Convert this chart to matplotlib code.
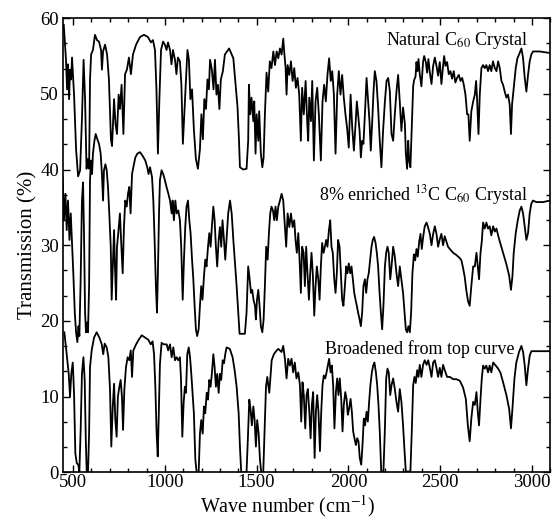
import matplotlib.pyplot as plt
from matplotlib.ticker import MultipleLocator

plt.rcParams['font.family'] = ['Liberation Serif', 'DejaVu Serif']
plt.rcParams['mathtext.fontset'] = 'stix'

# Natural C60 crystal (top curve)
natural_wn = [449, 461, 467, 472, 478, 483, 489, 494, 505, 516, 527, 538, 548, 557, 565, 573, 581, 587, 592, 598,
              608, 619, 630, 641, 652, 657, 663, 674, 685, 695, 706, 712, 723, 731, 739, 748, 755, 764, 774, 783,
              793, 804, 815, 826, 843, 864, 886, 908, 924, 935, 946, 954, 962, 970, 979, 990, 1000, 1009, 1017, 1028,
              1036, 1044, 1055, 1063, 1071, 1082, 1090, 1098, 1107, 1115, 1123, 1131, 1139, 1148, 1158, 1169, 1180, 1191, 1199, 1207,
              1215, 1224, 1232, 1240, 1246, 1256, 1265, 1273, 1281, 1289, 1297, 1305, 1316, 1327, 1350, 1373, 1382, 1391, 1396, 1404,
              1409, 1427, 1445, 1454, 1458, 1465, 1472, 1482, 1487, 1494, 1500, 1509, 1514, 1523, 1531, 1538, 1545, 1554, 1563, 1572,
              1581, 1591, 1600, 1609, 1618, 1627, 1636, 1645, 1650, 1658, 1663, 1669, 1678, 1687, 1696, 1705, 1714, 1723, 1732, 1741,
              1748, 1757, 1767, 1776, 1781, 1787, 1796, 1803, 1812, 1821, 1830, 1839, 1850, 1859, 1868, 1877, 1886, 1895, 1904, 1912,
              1921, 1930, 1939, 1948, 1957, 1966, 1975, 1984, 1993, 2002, 2012, 2021, 2030, 2039, 2046, 2053, 2061, 2068, 2075, 2082,
              2090, 2099, 2108, 2115, 2122, 2130, 2137, 2144, 2153, 2162, 2171, 2180, 2189, 2199, 2208, 2217, 2226, 2235, 2244, 2253,
              2262, 2271, 2280, 2289, 2298, 2308, 2313, 2320, 2326, 2331, 2338, 2344, 2353, 2358, 2366, 2371, 2376, 2382, 2389, 2398,
              2407, 2413, 2422, 2429, 2436, 2444, 2453, 2462, 2471, 2480, 2489, 2498, 2507, 2516, 2522, 2529, 2538, 2547, 2556, 2565,
              2574, 2583, 2592, 2602, 2611, 2620, 2629, 2638, 2647, 2654, 2661, 2670, 2680, 2689, 2696, 2701, 2709, 2716, 2725, 2734,
              2743, 2752, 2761, 2770, 2779, 2788, 2798, 2807, 2816, 2825, 2834, 2843, 2852, 2861, 2870, 2879, 2886, 2892, 2901, 2912,
              2921, 2930, 2943, 2952, 2961, 2970, 2979, 2988, 2997, 3006, 3043, 3097]
natural_t = [59.1, 54.5, 50.6, 53.9, 49.3, 53.2, 51.9, 54.8, 49.9, 42.7, 39.1, 39.9, 46.7, 54.5, 49.3, 40.1, 41.4, 40.1, 51.9, 55.2,
             55.8, 57.8, 57.1, 56.9, 55.8, 53.2, 55.6, 56.5, 55.2, 51.9, 44.0, 43.1, 49.3, 46.0, 44.7, 49.9, 48.0, 51.2, 44.7, 52.6,
             53.2, 54.8, 52.6, 55.2, 56.5, 57.5, 57.8, 57.5, 56.8, 57.1, 55.8, 50.6, 42.1, 49.3, 55.8, 56.9, 56.5, 55.8, 56.8, 55.8,
             53.9, 55.8, 54.5, 52.6, 54.8, 54.3, 51.2, 43.4, 48.0, 51.9, 55.8, 54.5, 49.3, 50.6, 45.3, 41.4, 40.1, 42.7, 47.3, 44.0,
             49.3, 48.0, 51.9, 50.6, 54.5, 53.2, 50.6, 54.5, 49.9, 51.2, 48.0, 51.9, 53.0, 55.2, 56.0, 54.7, 52.1, 49.5, 48.2, 43.8,
             40.3, 40.0, 40.1, 43.8, 51.2, 47.3, 49.5, 46.4, 49.0, 42.1, 47.3, 43.8, 47.7, 42.1, 40.3, 41.6, 47.3, 52.8, 50.3, 54.3,
             53.4, 55.6, 53.8, 55.6, 54.7, 56.0, 55.2, 57.3, 55.6, 53.4, 49.9, 53.8, 52.5, 54.3, 51.7, 53.4, 50.8, 52.1, 49.9, 43.8,
             50.8, 47.3, 51.7, 46.0, 43.8, 49.5, 46.4, 51.7, 41.2, 49.0, 50.8, 47.3, 41.2, 49.0, 51.2, 49.0, 52.5, 54.7, 51.7, 53.0,
             49.9, 42.1, 49.9, 53.0, 49.9, 52.5, 49.5, 47.3, 45.5, 42.9, 49.9, 45.5, 42.5, 46.0, 49.0, 47.3, 45.1, 41.6, 43.8, 43.4,
             47.3, 52.1, 49.0, 46.4, 42.5, 46.4, 50.3, 53.0, 51.7, 48.2, 43.8, 40.3, 45.1, 49.0, 51.7, 52.1, 50.3, 44.7, 43.8, 47.3,
             50.3, 52.5, 49.0, 45.1, 48.2, 46.0, 42.1, 40.1, 43.8, 41.2, 40.3, 44.7, 51.0, 51.8, 52.3, 54.2, 53.0, 54.6, 52.6, 51.0,
             54.2, 55.0, 54.2, 52.8, 54.6, 52.8, 51.3, 53.7, 54.8, 53.7, 52.4, 54.2, 51.3, 53.7, 55.0, 53.7, 54.2, 52.6, 53.0, 52.0,
             53.0, 51.5, 52.1, 52.5, 51.7, 52.1, 51.2, 49.9, 47.3, 47.3, 43.8, 47.7, 49.0, 49.9, 51.7, 49.5, 44.7, 49.9, 53.4, 53.8,
             53.4, 53.8, 53.0, 53.8, 53.0, 54.3, 53.4, 53.0, 54.3, 53.4, 51.7, 51.2, 50.3, 49.5, 49.9, 48.6, 44.7, 48.6, 50.8, 53.4,
             54.7, 55.2, 56.0, 54.7, 52.1, 50.3, 52.5, 54.3, 55.2, 55.6, 55.6, 55.4]

# 8% enriched 13C C60 crystal (middle curve)
enriched_wn = [443, 450, 458, 465, 472, 480, 487, 494, 501, 509, 516, 523, 529, 534, 541, 548, 554, 559, 565, 570,
               576, 581, 587, 592, 597, 603, 608, 616, 623, 632, 641, 650, 657, 663, 668, 676, 683, 690, 697, 705,
               710, 715, 723, 728, 734, 739, 746, 755, 763, 770, 777, 784, 792, 799, 806, 813, 821, 828, 839, 850,
               864, 879, 893, 904, 911, 919, 930, 937, 944, 951, 957, 962, 968, 973, 982, 991, 1000, 1009, 1019, 1028,
               1037, 1042, 1049, 1057, 1064, 1073, 1082, 1089, 1097, 1104, 1111, 1118, 1126, 1133, 1140, 1148, 1155, 1162, 1169, 1176,
               1184, 1191, 1198, 1205, 1213, 1220, 1227, 1235, 1242, 1249, 1256, 1264, 1271, 1278, 1285, 1293, 1300, 1307, 1314, 1322,
               1329, 1336, 1345, 1355, 1364, 1373, 1382, 1391, 1400, 1407, 1436, 1445, 1454, 1462, 1469, 1476, 1483, 1491, 1496, 1502,
               1509, 1516, 1523, 1531, 1538, 1545, 1552, 1560, 1567, 1574, 1581, 1589, 1596, 1603, 1610, 1618, 1627, 1636, 1645, 1654,
               1661, 1669, 1678, 1687, 1696, 1705, 1712, 1719, 1727, 1734, 1741, 1748, 1756, 1763, 1770, 1777, 1785, 1792, 1799, 1806,
               1814, 1821, 1828, 1836, 1843, 1850, 1857, 1865, 1872, 1879, 1886, 1894, 1901, 1908, 1915, 1923, 1930, 1937, 1944, 1952,
               1959, 1966, 1973, 1981, 1988, 1995, 2002, 2010, 2017, 2024, 2032, 2039, 2046, 2053, 2061, 2068, 2075, 2082, 2090, 2097,
               2104, 2111, 2119, 2126, 2133, 2140, 2148, 2155, 2162, 2170, 2177, 2184, 2191, 2199, 2206, 2213, 2220, 2228, 2235, 2244,
               2253, 2262, 2271, 2280, 2289, 2298, 2306, 2313, 2320, 2327, 2335, 2342, 2349, 2357, 2364, 2371, 2378, 2386, 2393, 2400,
               2407, 2416, 2426, 2435, 2444, 2453, 2462, 2471, 2480, 2489, 2498, 2507, 2516, 2525, 2534, 2543, 2553, 2571, 2589, 2607,
               2616, 2625, 2634, 2643, 2652, 2661, 2670, 2680, 2689, 2698, 2705, 2712, 2720, 2727, 2734, 2743, 2752, 2761, 2770, 2779,
               2789, 2798, 2807, 2816, 2825, 2843, 2861, 2876, 2886, 2894, 2901, 2912, 2923, 2934, 2943, 2952, 2961, 2970, 2979, 2988,
               2997, 3006, 3024, 3061, 3097]
enriched_t = [39.0, 33.3, 36.8, 32.0, 35.9, 30.7, 34.2, 30.3, 26.3, 21.1, 18.5, 17.2, 19.3, 18.0, 25.5, 35.9, 38.3, 32.0, 21.1, 18.5,
              19.8, 18.5, 24.6, 38.6, 41.2, 39.4, 42.1, 43.8, 44.7, 44.0, 43.4, 42.1, 39.4, 35.9, 39.9, 40.7, 39.9, 37.7, 34.2, 29.8,
              22.8, 26.3, 32.0, 27.2, 22.8, 29.8, 31.6, 34.2, 29.8, 26.3, 32.4, 35.9, 35.1, 36.8, 37.7, 34.2, 39.4, 40.3, 41.6, 42.1,
              42.3, 41.8, 41.2, 40.3, 39.4, 40.3, 39.0, 35.9, 30.7, 24.6, 21.1, 26.3, 34.2, 38.6, 39.9, 39.4, 38.6, 37.7, 36.8, 35.9,
              34.2, 35.9, 33.3, 35.9, 34.2, 34.6, 33.3, 29.8, 22.8, 28.1, 32.4, 35.1, 35.9, 33.3, 31.6, 28.1, 25.5, 22.0, 18.9, 18.0,
              18.9, 22.0, 24.6, 22.8, 25.9, 28.1, 27.2, 29.8, 31.6, 29.8, 32.4, 35.1, 33.3, 29.8, 27.2, 30.7, 32.4, 29.8, 33.3, 30.7,
              28.1, 30.7, 34.2, 35.9, 34.2, 30.7, 27.6, 24.6, 21.1, 18.3, 18.3, 21.1, 27.2, 25.5, 23.7, 24.1, 22.8, 22.0, 20.2, 22.8,
              24.1, 22.0, 19.3, 18.5, 20.2, 24.6, 29.8, 28.1, 31.6, 34.2, 35.1, 34.6, 33.3, 35.1, 33.3, 35.1, 35.9, 36.8, 35.9, 32.4,
              29.8, 34.2, 32.4, 34.2, 32.4, 33.3, 30.7, 29.0, 31.6, 28.1, 23.7, 29.8, 29.0, 24.6, 29.8, 26.3, 22.8, 26.3, 29.0, 26.3,
              20.7, 24.6, 27.2, 25.5, 22.8, 27.2, 30.3, 29.0, 29.8, 30.7, 29.8, 32.0, 33.3, 29.8, 29.0, 25.5, 23.7, 26.3, 30.7, 29.8,
              26.3, 22.8, 22.0, 24.6, 27.2, 26.3, 27.6, 26.3, 27.2, 25.5, 23.7, 22.8, 22.0, 21.1, 20.2, 19.3, 21.1, 24.6, 25.5, 23.7,
              25.5, 26.3, 28.1, 29.8, 30.7, 31.1, 30.3, 29.0, 27.2, 23.7, 21.1, 18.9, 22.0, 27.2, 29.0, 29.8, 29.0, 25.5, 27.2, 29.8,
              28.5, 26.3, 24.6, 27.2, 25.5, 23.7, 21.1, 18.9, 18.5, 19.3, 18.5, 21.1, 26.3, 28.8, 28.0, 29.5, 28.5, 30.5, 31.5, 29.5,
              31.0, 32.5, 33.0, 32.3, 31.5, 30.0, 31.5, 32.5, 31.5, 29.8, 30.8, 31.5, 30.0, 31.2, 30.5, 29.8, 29.5, 29.0, 28.7, 28.3,
              28.0, 27.0, 25.8, 24.0, 22.6, 22.0, 24.6, 27.2, 27.2, 29.0, 27.2, 25.5, 29.0, 30.5, 33.0, 32.2, 33.0, 32.2, 32.5, 31.3,
              32.5, 31.8, 32.2, 31.3, 30.5, 29.0, 27.5, 26.0, 24.1, 25.9, 29.0, 31.6, 33.3, 34.6, 35.1, 34.2, 32.4, 30.7, 31.6, 34.2,
              35.5, 35.9, 35.7, 35.7, 35.9]

# Broadened from top curve (bottom curve)
broad_wn = [452, 461, 468, 476, 483, 490, 498, 505, 512, 520, 528, 534, 541, 548, 556, 563, 569, 574, 581, 587,
            592, 601, 614, 628, 643, 656, 664, 672, 683, 692, 701, 708, 716, 723, 730, 737, 744, 752, 759, 766,
            772, 779, 788, 797, 806, 814, 821, 828, 843, 857, 874, 892, 910, 923, 933, 941, 948, 955, 961, 966,
            973, 982, 995, 1010, 1018, 1028, 1037, 1046, 1055, 1064, 1073, 1082, 1088, 1095, 1102, 1109, 1115, 1122, 1130, 1137,
            1144, 1151, 1158, 1166, 1173, 1184, 1191, 1198, 1206, 1213, 1220, 1228, 1235, 1242, 1249, 1256, 1264, 1271, 1278, 1285,
            1293, 1300, 1307, 1315, 1322, 1329, 1336, 1354, 1369, 1380, 1391, 1402, 1409, 1416, 1445, 1452, 1460, 1467, 1474, 1482,
            1489, 1496, 1503, 1511, 1518, 1525, 1536, 1543, 1551, 1558, 1569, 1582, 1594, 1609, 1618, 1636, 1645, 1654, 1663, 1672,
            1681, 1690, 1699, 1708, 1717, 1727, 1736, 1743, 1750, 1757, 1765, 1772, 1779, 1787, 1794, 1801, 1808, 1816, 1823, 1830,
            1837, 1845, 1852, 1859, 1866, 1874, 1881, 1888, 1895, 1903, 1910, 1917, 1924, 1932, 1939, 1946, 1953, 1961, 1968, 1975,
            1983, 1990, 1997, 2004, 2012, 2019, 2026, 2033, 2041, 2048, 2055, 2062, 2070, 2077, 2084, 2091, 2099, 2106, 2113, 2120,
            2128, 2135, 2142, 2150, 2157, 2164, 2171, 2179, 2191, 2199, 2206, 2213, 2220, 2228, 2235, 2244, 2253, 2262, 2271, 2280,
            2289, 2298, 2306, 2313, 2338, 2346, 2353, 2360, 2367, 2375, 2382, 2389, 2398, 2407, 2416, 2426, 2435, 2444, 2453, 2462,
            2471, 2480, 2489, 2498, 2507, 2516, 2525, 2538, 2553, 2571, 2589, 2607, 2625, 2640, 2651, 2661, 2670, 2680, 2689, 2698,
            2705, 2712, 2720, 2727, 2734, 2743, 2752, 2761, 2770, 2779, 2789, 2803, 2816, 2828, 2843, 2861, 2876, 2886, 2894, 2905,
            2915, 2930, 2943, 2952, 2961, 2970, 2979, 2988, 2997, 3006, 3043, 3097]
broad_t = [18.5, 16.5, 14.8, 13.0, 10.0, 13.0, 14.5, 10.4, 2.5, 1.2, 1.0, 0.1, 5.6, 13.0, 15.2, 12.2, 4.3, 0.0, 0.0, 5.1,
           13.9, 16.1, 17.8, 18.5, 17.8, 16.9, 15.6, 17.0, 16.5, 15.2, 10.9, 3.4, 8.7, 11.7, 6.9, 4.7, 10.0, 11.3, 12.2, 10.0,
           5.6, 10.9, 13.9, 15.2, 14.8, 16.1, 12.6, 16.1, 16.9, 17.5, 18.1, 17.8, 17.5, 16.9, 17.3, 15.6, 11.3, 5.1, 2.1, 6.9,
           14.3, 17.1, 16.9, 16.9, 16.1, 16.9, 15.2, 16.5, 14.8, 15.2, 14.8, 15.2, 12.2, 4.7, 9.1, 11.3, 10.5, 15.6, 16.5, 15.2,
           13.0, 10.5, 7.8, 1.7, 0.0, 0.0, 5.1, 6.9, 5.1, 8.7, 7.8, 10.5, 9.6, 12.2, 11.3, 13.0, 15.6, 13.9, 11.3, 13.0,
           10.5, 13.0, 12.2, 14.8, 14.4, 15.6, 16.5, 16.3, 15.2, 13.5, 11.3, 7.8, 3.4, 0.0, 0.0, 4.3, 9.6, 8.3, 6.2, 8.7,
           6.9, 3.4, 6.9, 5.1, 1.7, 0.0, 0.0, 5.1, 11.3, 12.6, 10.5, 14.8, 15.6, 16.1, 16.3, 15.9, 16.7, 15.0, 12.4, 15.0,
           14.1, 15.0, 13.2, 14.5, 12.4, 13.2, 11.5, 6.7, 11.9, 10.2, 5.8, 10.2, 11.0, 8.0, 4.5, 8.9, 10.6, 1.9, 8.0, 10.2,
           8.0, 2.8, 8.0, 11.5, 12.8, 12.4, 13.2, 14.1, 15.0, 13.2, 14.1, 11.5, 5.8, 10.6, 12.4, 10.2, 12.4, 9.7, 5.4, 8.9,
           10.6, 9.7, 7.6, 8.4, 9.7, 8.0, 5.4, 4.5, 3.6, 4.5, 4.1, 1.9, 1.0, 3.6, 7.1, 6.2, 8.0, 6.7, 9.3, 11.5,
           13.2, 14.1, 14.5, 13.2, 11.5, 8.9, 5.4, 0.1, 0.1, 5.8, 12.4, 13.7, 13.2, 10.2, 11.5, 12.4, 11.0, 9.3, 8.0, 11.0,
           9.3, 6.2, 2.8, 0.1, 0.1, 5.8, 11.5, 12.6, 11.8, 13.5, 12.6, 14.2, 12.6, 14.2, 14.8, 14.2, 14.8, 13.8, 12.6, 14.5,
           14.8, 13.8, 12.6, 13.8, 12.6, 14.2, 13.5, 12.6, 12.6, 12.3, 12.3, 12.1, 11.2, 9.7, 6.2, 4.1, 7.1, 9.3, 8.9, 10.6,
           8.0, 6.2, 9.7, 12.4, 14.1, 13.7, 14.1, 13.2, 14.1, 13.2, 14.5, 14.1, 13.7, 13.2, 11.9, 10.2, 8.4, 5.8, 8.4, 12.4,
           14.5, 15.9, 16.7, 15.9, 14.1, 11.5, 13.7, 15.4, 16.0, 16.0, 16.0, 16.0]

fig = plt.figure(figsize=(5.53, 5.19), dpi=100)
ax = fig.add_axes([0.114, 0.09, 0.881, 0.875])

ax.plot(natural_wn, natural_t, color='black', lw=1.3)
ax.plot(enriched_wn, enriched_t, color='black', lw=1.3)
ax.plot(broad_wn, broad_t, color='black', lw=1.3)

ax.text(2978, 57.0, r'Natural C$_{60}$ Crystal', ha='right', va='center', fontsize=13)
ax.text(2978, 36.7, r'8% enriched $^{13}$C C$_{60}$ Crystal', ha='right', va='center', fontsize=13)
ax.text(2907, 16.3, 'Broadened from top curve', ha='right', va='center', fontsize=13)

ax.set_xlim(445, 3100)
ax.set_ylim(0, 60)
ax.xaxis.set_major_locator(MultipleLocator(500))
ax.xaxis.set_minor_locator(MultipleLocator(100))
ax.yaxis.set_major_locator(MultipleLocator(10))
ax.yaxis.set_minor_locator(MultipleLocator(10 / 3))
ax.tick_params(which='both', direction='in', top=True, right=True, width=1.0, labelsize=13.5)
ax.tick_params(axis='x', which='both', pad=1)
ax.tick_params(axis='y', which='both', pad=3)
ax.tick_params(which='major', length=5)
ax.tick_params(which='minor', length=3)
for s in ax.spines.values():
    s.set_linewidth(1.2)

ax.set_xlabel('Wave number (cm$^{-1}$)', fontsize=14.5)
ax.xaxis.set_label_coords(0.462, -0.046)
ax.set_ylabel('Transmission (%)', fontsize=15, labelpad=2)

fig.savefig('out.png', dpi=100)
